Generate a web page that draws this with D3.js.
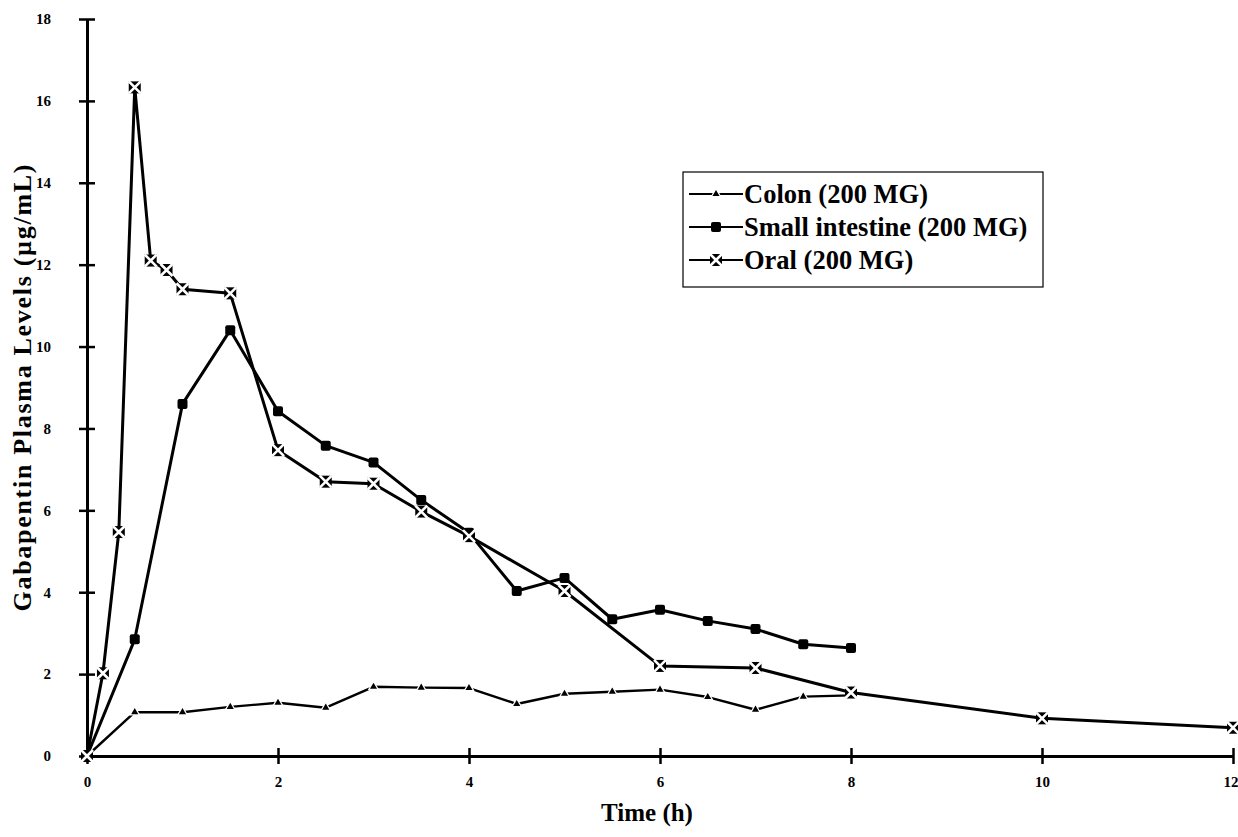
<!DOCTYPE html>
<meta charset="utf-8">
<head>
	<title>Gabapentin plasma levels</title>
</head>

<style>
	body { margin: 0; background: #fff; }
	text { font-family: "Liberation Serif", "Times New Roman", serif; font-weight: bold; fill: #000; }
</style>

<body>
	<svg width="1238" height="837"></svg>

	<script src="https://d3js.org/d3.v7.min.js"></script>
	<script>
// time points (h) and values (µg/mL)
var colonTime = [0, 0.5, 1, 1.5, 2, 2.5, 3, 3.5, 4, 4.5, 5, 5.5, 6, 6.5, 7, 7.5, 8];
var colonVals = [0, 1.07, 1.07, 1.2, 1.3, 1.18, 1.69, 1.67, 1.66, 1.27, 1.52, 1.57, 1.62, 1.44, 1.13, 1.45, 1.48];

var siTime = [0, 0.5, 1, 1.5, 2, 2.5, 3, 3.5, 4, 4.5, 5, 5.5, 6, 6.5, 7, 7.5, 8];
var siVals = [0, 2.85, 8.6, 10.4, 8.42, 7.58, 7.17, 6.25, 5.45, 4.03, 4.35, 3.34, 3.57, 3.3, 3.1, 2.73, 2.64];

var oralTime = [0, 0.167, 0.333, 0.5, 0.667, 0.833, 1, 1.5, 2, 2.5, 3, 3.5, 4, 5, 6, 7, 8, 10, 12];
var oralVals = [0, 2.02, 5.47, 16.33, 12.1, 11.87, 11.4, 11.3, 7.47, 6.7, 6.65, 5.97, 5.37, 4.03, 2.2, 2.15, 1.55, 0.92, 0.69];

var xTicks = [0, 2, 4, 6, 8, 10, 12];
var yTicks = [0, 2, 4, 6, 8, 10, 12, 14, 16, 18];

var seriesNames = ["Colon (200 MG)", "Small intestine (200 MG)", "Oral (200 MG)"];

function zip(t, v) { return t.map(function(d, i) { return {t: d, v: v[i]}; }); }

var series = [
	{name: seriesNames[0], kind: "tri", data: zip(colonTime, colonVals), width: 2.4},
	{name: seriesNames[1], kind: "sq", data: zip(siTime, siVals), width: 3},
	{name: seriesNames[2], kind: "x", data: zip(oralTime, oralVals), width: 3}
];

var svg = d3.select("svg");
var x = d3.scaleLinear().domain([0, 12]).range([87, 1233]);
var y = d3.scaleLinear().domain([0, 18]).range([756, 19]);

// axes
var xAxis = svg.append("g").attr("transform", "translate(0," + y(0) + ")")
	.call(d3.axisBottom(x).tickValues(xTicks).tickSize(0).tickPadding(20));
xAxis.select(".domain").attr("stroke", "#000").attr("stroke-width", 3);
xAxis.selectAll(".tick text").style("font-size", "15px").style("font-family", "Liberation Serif").style("font-weight", "bold")
	.attr("text-anchor", function(d) { return d === 12 ? "end" : "middle"; })
	.attr("dx", function(d) { return d === 12 ? 5 : 0; });
xAxis.selectAll(".tick").append("line").attr("y1", -8).attr("y2", 8).attr("stroke", "#000").attr("stroke-width", 2.5);

var yAxis = svg.append("g").attr("transform", "translate(" + x(0) + ",0)")
	.call(d3.axisLeft(y).tickValues(yTicks).tickSize(0).tickPadding(36));
yAxis.select(".domain").attr("stroke", "#000").attr("stroke-width", 3);
yAxis.selectAll(".tick text").style("font-size", "15px").style("font-family", "Liberation Serif").style("font-weight", "bold");
yAxis.selectAll(".tick").append("line").attr("x1", -8).attr("x2", 8).attr("stroke", "#000").attr("stroke-width", 2.5);

svg.append("text").attr("x", 647).attr("y", 821).attr("text-anchor", "middle")
	.style("font-size", "25px").text("Time (h)");
svg.append("text").attr("transform", "translate(31,388) rotate(-90)").attr("text-anchor", "middle")
	.style("font-size", "26px").attr("textLength", 447).attr("lengthAdjust", "spacing")
	.text("Gabapentin Plasma Levels (\u00b5g/mL)");

// markers
function drawMarker(g, kind, cx, cy) {
	if (kind === "tri") {
		g.append("path").attr("transform", "translate(" + cx + "," + cy + ")")
			.attr("d", d3.symbol().type(d3.symbolTriangle).size(22)())
			.attr("fill", "#000").attr("stroke", "#fff").attr("stroke-width", 2.5)
			.attr("paint-order", "stroke");
	} else if (kind === "sq") {
		g.append("rect").attr("x", cx - 5).attr("y", cy - 5).attr("width", 10).attr("height", 10)
			.attr("rx", 2).attr("fill", "#000");
	} else {
		g.append("rect").attr("x", cx - 6).attr("y", cy - 6).attr("width", 12).attr("height", 12)
			.attr("fill", "#000");
		g.append("path").attr("d", "M" + (cx - 6) + "," + (cy - 6) + "L" + (cx + 6) + "," + (cy + 6) +
			"M" + (cx + 6) + "," + (cy - 6) + "L" + (cx - 6) + "," + (cy + 6))
			.attr("stroke", "#fff").attr("stroke-width", 2.6);
	}
}

var line = d3.line().x(function(d) { return x(d.t); }).y(function(d) { return y(d.v); });

series.forEach(function(s) {
	var g = svg.append("g");
	g.append("path").datum(s.data).attr("d", line)
		.attr("fill", "none").attr("stroke", "#000").attr("stroke-width", s.width)
		.attr("stroke-linejoin", "round");
	s.data.forEach(function(d) { drawMarker(g, s.kind, x(d.t), y(d.v)); });
});

// legend
var lg = svg.append("g").attr("transform", "translate(683,172)");
lg.append("rect").attr("width", 360).attr("height", 115)
	.attr("fill", "#fff").attr("stroke", "#000").attr("stroke-width", 1.2);
series.forEach(function(s, i) {
	var ly = 22 + i * 33;
	var row = lg.append("g");
	row.append("line").attr("x1", 6).attr("x2", 60).attr("y1", ly).attr("y2", ly)
		.attr("stroke", "#000").attr("stroke-width", 2.2);
	drawMarker(row, s.kind, 33, ly);
	row.append("text").attr("x", 61).attr("y", ly + 9).style("font-size", "26.5px").text(s.name);
});
	</script>
</body>
</html>
